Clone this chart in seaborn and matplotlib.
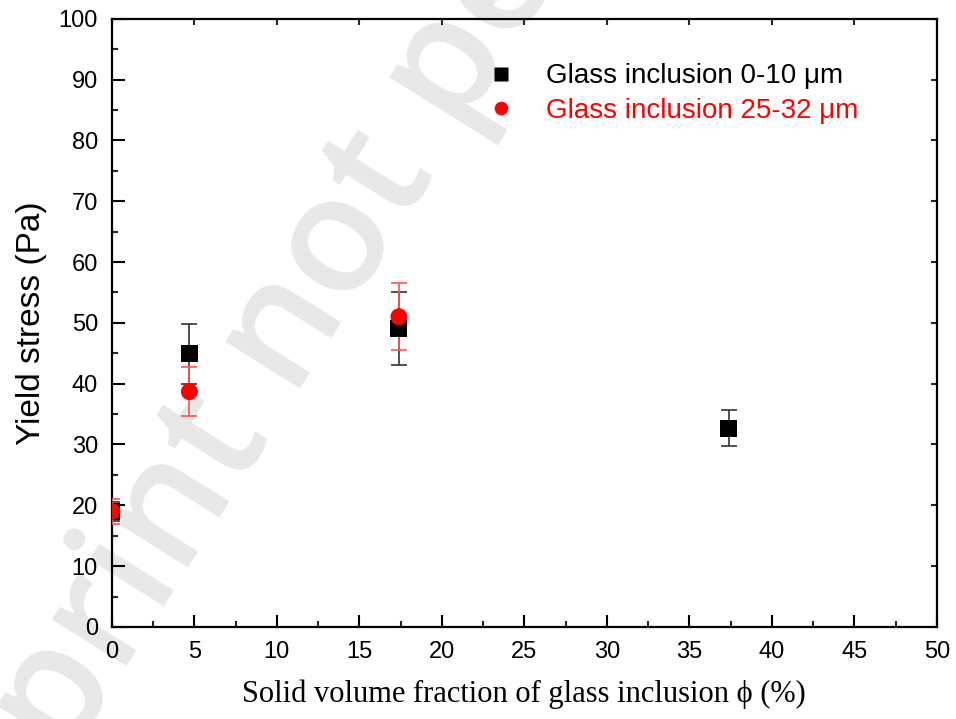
import matplotlib
matplotlib.use("Agg")
import matplotlib.pyplot as plt
import numpy as np
import pandas as pd
import seaborn as sns
from matplotlib.ticker import MultipleLocator

sns.set_theme(style="ticks")
plt.rcParams['font.family'] = ['Liberation Sans', 'DejaVu Sans']
plt.rcParams['text.color'] = 'black'
plt.rcParams['axes.labelcolor'] = 'black'

# data
phi_small = [0.0, 4.7, 17.4, 37.4]
stress_small = [19.0, 44.9, 49.0, 32.7]
err_small = [1.5, 4.9, 6.0, 3.0]

phi_large = [0.0, 4.7, 17.4]
stress_large = [19.0, 38.7, 51.0]
err_large = [2.0, 4.0, 5.5]

label_small = "Glass inclusion 0-10 \u03bcm"
label_large = "Glass inclusion 25-32 \u03bcm"

df = pd.DataFrame({
    'phi': phi_small + phi_large,
    'stress': stress_small + stress_large,
    'err': err_small + err_large,
    'group': [label_small] * len(phi_small) + [label_large] * len(phi_large),
})

fig = plt.figure(figsize=(9.56, 7.19), dpi=100)

# faint watermark behind everything
fig.text(0.474, 0.91, "Preprint not peer reviewed", fontsize=118, color='#e8e8e8',
         family=['Open Sans', 'DejaVu Sans'], weight='semibold',
         rotation=58, rotation_mode='anchor', ha='center', va='center', zorder=-1)

ax = fig.add_axes([0.117, 0.128, 0.863, 0.846])
ax.patch.set_alpha(0)

# error bars
ax.errorbar(phi_small, stress_small, yerr=err_small, fmt='none', ecolor='#333333',
            elinewidth=1.2, capsize=6, capthick=1.2, zorder=2)
ax.errorbar(phi_large, stress_large, yerr=err_large, fmt='none', ecolor='#ff5555',
            elinewidth=1.2, capsize=6, capthick=1.2, zorder=3)

sns.scatterplot(data=df, x='phi', y='stress', hue='group', style='group',
                palette={label_small: 'black', label_large: 'red'},
                markers={label_small: 's', label_large: 'o'},
                s=150, edgecolor='none', ax=ax, zorder=4)

ax.set_xlim(0, 50)
ax.set_ylim(0, 100)
ax.xaxis.set_major_locator(MultipleLocator(5))
ax.xaxis.set_minor_locator(MultipleLocator(2.5))
ax.yaxis.set_major_locator(MultipleLocator(10))
ax.yaxis.set_minor_locator(MultipleLocator(5))
ax.tick_params(which='major', direction='in', length=9, width=1.5, labelsize=17,
               colors='black', pad=10)
ax.tick_params(which='minor', direction='in', length=4.5, width=1.5)

for sp in ax.spines.values():
    sp.set_visible(True)
    sp.set_linewidth(1.6)
    sp.set_color('black')

# short ticks on top and right
secx = ax.secondary_xaxis('top')
secx.xaxis.set_major_locator(MultipleLocator(5))
secx.tick_params(direction='in', length=4.5, width=1.5, labeltop=False)
secy = ax.secondary_yaxis('right')
secy.yaxis.set_major_locator(MultipleLocator(10))
secy.tick_params(direction='in', length=4.5, width=1.5, labelright=False)
for s in (secx, secy):
    for sp in s.spines.values():
        sp.set_visible(False)

ax.set_ylabel("Yield stress (Pa)", fontsize=24, labelpad=8)
ax.set_xlabel("Solid volume fraction of glass inclusion \u03d5 (%)", fontsize=22,
              family=['Liberation Serif', 'DejaVu Serif'], labelpad=12)

leg = ax.legend(loc='upper left', bbox_to_anchor=(0.425, 0.945), frameon=False,
                fontsize=20, labelcolor='markerfacecolor', handletextpad=0.6,
                markerscale=0.8, labelspacing=0.3, borderaxespad=0)

fig.savefig("out.png", dpi=100)
